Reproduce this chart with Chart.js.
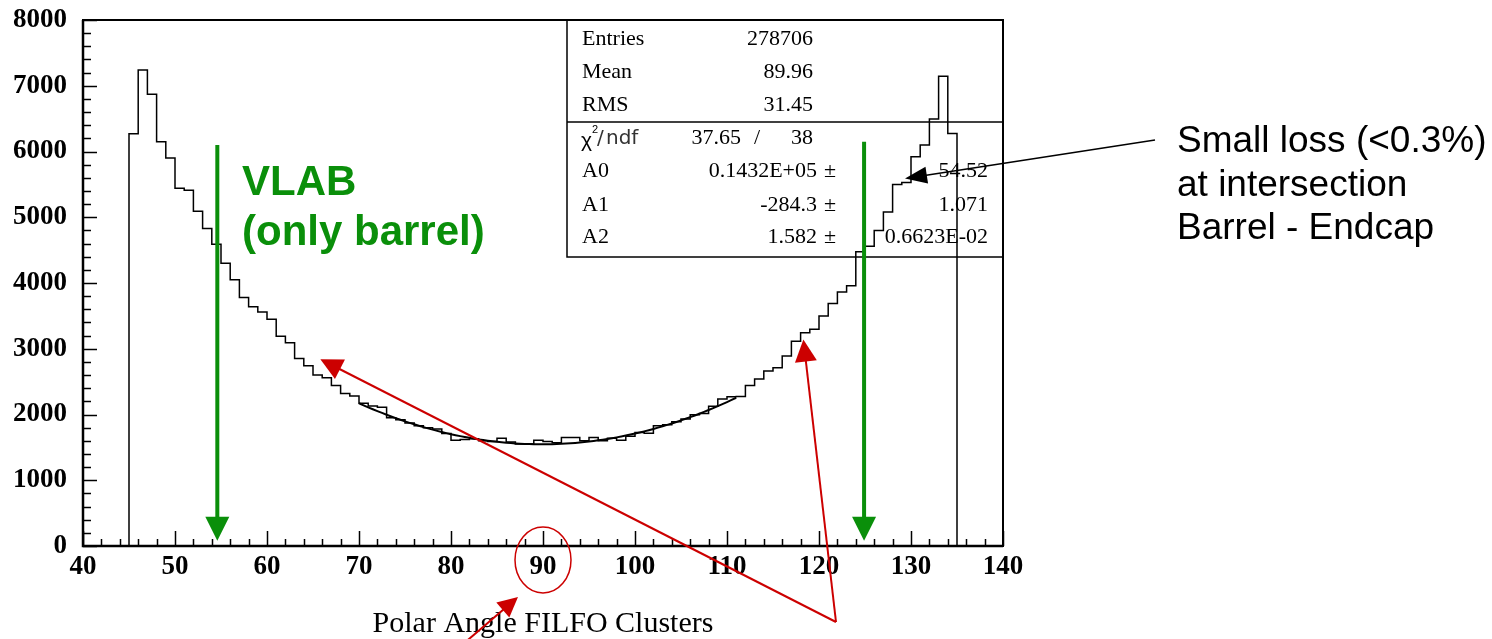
<!DOCTYPE html>
<html>
<head>
  <script src="https://cdn.jsdelivr.net/npm/chart.js"></script>
  <style>
    body {
      margin: 0px;
      background: #ffffff;
    }
    canvas {
      display: block;
    }
  </style>
</head>
<body>
  <canvas id="histChart" width="1492" height="639"></canvas>

  <script>
    // Histogram bins: lower edge of each 1 degree bin
    var binLow = [45, 46, 47, 48, 49, 50, 51, 52, 53, 54,
                  55, 56, 57, 58, 59, 60, 61, 62, 63, 64,
                  65, 66, 67, 68, 69, 70, 71, 72, 73, 74,
                  75, 76, 77, 78, 79, 80, 81, 82, 83, 84,
                  85, 86, 87, 88, 89, 90, 91, 92, 93, 94,
                  95, 96, 97, 98, 99, 100, 101, 102, 103, 104,
                  105, 106, 107, 108, 109, 110, 111, 112, 113, 114,
                  115, 116, 117, 118, 119, 120, 121, 122, 123, 124,
                  125, 126, 127, 128, 129, 130, 131, 132, 133, 134];
    var binWidth = 1;

    // Cluster counts per bin
    var counts = [6270, 7240, 6870, 6150, 5900, 5440, 5410, 5090, 4830, 4590,
                  4300, 4050, 3780, 3640, 3560, 3450, 3190, 3090, 2850, 2740,
                  2600, 2560, 2440, 2320, 2280, 2170, 2130, 2110, 1950, 1920,
                  1870, 1830, 1800, 1780, 1710, 1610, 1620, 1630, 1600, 1590,
                  1640, 1580, 1550, 1550, 1610, 1590, 1570, 1650, 1650, 1600,
                  1650, 1600, 1640, 1610, 1670, 1725, 1715, 1830, 1845, 1890,
                  1930, 1995, 2015, 2125, 2235, 2270, 2275, 2440, 2540, 2660,
                  2710, 2890, 3115, 3245, 3295, 3500, 3690, 3865, 3960, 4475,
                  4560, 4800, 5080, 5500, 5530, 5920, 6100, 6495, 7145, 6275];

    // Second order polynomial fit A0 + A1*x + A2*x^2 and its range
    var fitParams = [14320, -284.3, 1.582];
    var fitRange = [70, 111];

    // Axis ticks
    var xTickStep = 10;
    var yTickStep = 1000;

    // Statistics box contents
    var statNames = ['Entries', 'Mean', 'RMS'];
    var statValues = ['278706', '89.96', '31.45'];
    var chi2Text = ['37.65', '38'];
    var parNames = ['A0', 'A1', 'A2'];
    var parValues = ['0.1432E+05', '-284.3', '1.582'];
    var parErrors = ['54.52', '1.071', '0.6623E-02'];

    // Build the step outline of the histogram
    var histPoints = [{ x: binLow[0], y: 0 }];
    for (var i = 0; i < binLow.length; i++) {
      histPoints.push({ x: binLow[i], y: counts[i] });
    }
    histPoints.push({ x: binLow[binLow.length - 1] + binWidth, y: 0 });

    // Fit curve sampled every half degree
    var fitPoints = [];
    for (var fx = fitRange[0]; fx <= fitRange[1]; fx += 0.5) {
      fitPoints.push({ x: fx, y: fitParams[0] + fitParams[1] * fx + fitParams[2] * fx * fx });
    }

    var GREEN = '#0a8f0a';
    var RED = '#cc0000';

    function arrow(ctx, x1, y1, x2, y2, color, width, headLen, headWidth) {
      var a = Math.atan2(y2 - y1, x2 - x1);
      var c = Math.cos(a), s = Math.sin(a);
      ctx.save();
      ctx.strokeStyle = color;
      ctx.fillStyle = color;
      ctx.lineWidth = width;
      ctx.beginPath();
      ctx.moveTo(x1, y1);
      ctx.lineTo(x2 - c * headLen * 0.9, y2 - s * headLen * 0.9);
      ctx.stroke();
      ctx.beginPath();
      ctx.moveTo(x2, y2);
      ctx.lineTo(x2 - c * headLen - s * headWidth / 2, y2 - s * headLen + c * headWidth / 2);
      ctx.lineTo(x2 - c * headLen + s * headWidth / 2, y2 - s * headLen - c * headWidth / 2);
      ctx.closePath();
      ctx.fill();
      ctx.restore();
    }

    // Stats box, frame, inner ticks and the notes drawn on top
    var decorations = {
      id: 'decorations',
      beforeDatasetsDraw: function(chart) {
        var ctx = chart.ctx;
        var area = chart.chartArea;
        var left = 567, top = area.top, right = area.right, mid = 122, bottom = 257;
        ctx.save();
        ctx.strokeStyle = '#000';
        ctx.lineWidth = 1.5;
        ctx.strokeRect(left, top, right - left, bottom - top);
        ctx.beginPath();
        ctx.moveTo(left, mid);
        ctx.lineTo(right, mid);
        ctx.stroke();

        ctx.fillStyle = '#000';
        ctx.textBaseline = 'middle';
        ctx.font = '22px "Liberation Serif"';
        var rows = [39, 72, 105];
        for (var i = 0; i < statNames.length; i++) {
          ctx.textAlign = 'left';
          ctx.fillText(statNames[i], 582, rows[i]);
          ctx.textAlign = 'right';
          ctx.fillText(statValues[i], 813, rows[i]);
        }

        // chi2 / ndf row
        ctx.textAlign = 'left';
        ctx.font = '21px "Liberation Sans"';
        ctx.fillText('\u03c7', 581, 141);
        ctx.font = '11px "Liberation Sans"';
        ctx.fillText('2', 592, 130);
        ctx.font = '20px "DejaVu Sans"';
        ctx.fillStyle = '#333';
        ctx.fillText('/', 597, 139);
        ctx.fillText('ndf', 606, 139);
        ctx.fillStyle = '#000';
        ctx.font = '22px "Liberation Serif"';
        ctx.textAlign = 'right';
        ctx.fillText(chi2Text[0], 741, 138);
        ctx.textAlign = 'center';
        ctx.fillText('/', 757, 138);
        ctx.textAlign = 'right';
        ctx.fillText(chi2Text[1], 813, 138);

        var prow = [171, 205, 237];
        for (var j = 0; j < parNames.length; j++) {
          ctx.textAlign = 'left';
          ctx.fillText(parNames[j], 582, prow[j]);
          ctx.textAlign = 'right';
          ctx.fillText(parValues[j], 817, prow[j]);
          ctx.textAlign = 'left';
          ctx.fillText('\u00b1', 824, prow[j]);
          ctx.textAlign = 'right';
          ctx.fillText(parErrors[j], 988, prow[j]);
        }
        ctx.restore();
      },
      afterDatasetsDraw: function(chart) {
        var ctx = chart.ctx;
        var area = chart.chartArea;
        var xs = chart.scales.x, ys = chart.scales.y;
        ctx.save();

        // frame
        ctx.strokeStyle = '#000';
        ctx.lineWidth = 2;
        ctx.strokeRect(area.left, area.top, area.right - area.left, area.bottom - area.top);
        ctx.lineWidth = 2.5;
        ctx.beginPath();
        ctx.moveTo(area.left, area.top);
        ctx.lineTo(area.left, area.bottom);
        ctx.lineTo(area.right, area.bottom);
        ctx.stroke();

        // inner ticks
        ctx.lineWidth = 1.5;
        ctx.beginPath();
        for (var v = xs.min; v <= xs.max; v += 2) {
          var px = Math.round(xs.getPixelForValue(v)) + 0.5;
          var len = (v % xTickStep === 0) ? 15 : 7;
          ctx.moveTo(px, area.bottom);
          ctx.lineTo(px, area.bottom - len);
        }
        for (var w = ys.min; w <= ys.max; w += 200) {
          var py = Math.round(ys.getPixelForValue(w)) + 0.5;
          var len2 = (w % yTickStep === 0) ? 14 : 8;
          ctx.moveTo(area.left, py);
          ctx.lineTo(area.left + len2, py);
        }
        ctx.stroke();

        // barrel acceptance arrows
        arrow(ctx, xs.getPixelForValue(54.6), ys.getPixelForValue(6100),
              xs.getPixelForValue(54.6), ys.getPixelForValue(80), GREEN, 4, 24, 24);
        arrow(ctx, xs.getPixelForValue(124.9), ys.getPixelForValue(6150),
              xs.getPixelForValue(124.9), ys.getPixelForValue(80), GREEN, 4, 24, 24);

        ctx.fillStyle = GREEN;
        ctx.textAlign = 'left';
        ctx.textBaseline = 'alphabetic';
        ctx.font = 'bold 42px "Liberation Sans"';
        ctx.fillText('VLAB', 242, 195);
        ctx.fillText('(only barrel)', 242, 245);

        // red pointers
        arrow(ctx, 836, 622, xs.getPixelForValue(65.8), ys.getPixelForValue(2840), RED, 2, 22, 22);
        arrow(ctx, 836, 622, xs.getPixelForValue(118.3), ys.getPixelForValue(3140), RED, 2, 22, 22);
        arrow(ctx, 462, 645, 518, 597, RED, 2, 20, 20);
        ctx.strokeStyle = RED;
        ctx.lineWidth = 1.5;
        ctx.beginPath();
        ctx.ellipse(xs.getPixelForValue(90), 560, 28, 33, 0, 0, Math.PI * 2);
        ctx.stroke();

        // note on the barrel / endcap overlap
        arrow(ctx, 1155, 140, xs.getPixelForValue(129.35), ys.getPixelForValue(5590), '#000', 1.5, 22, 17);
        ctx.fillStyle = '#000';
        ctx.font = '37px "Liberation Sans"';
        ctx.fillText('Small loss (<0.3%)', 1177, 152);
        ctx.fillText('at intersection', 1177, 196);
        ctx.fillText('Barrel - Endcap', 1177, 239);

        ctx.restore();
      }
    };

    var tickFont = { family: 'Liberation Serif', weight: 'bold', size: 27 };

    var config = {
      type: 'line',
      data: {
        datasets: [{
          label: 'Polar angle',
          data: histPoints,
          stepped: 'before',
          borderColor: '#000',
          borderWidth: 1.5,
          pointRadius: 0,
          fill: false
        }, {
          label: 'pol2 fit',
          data: fitPoints,
          borderColor: '#000',
          borderWidth: 2,
          pointRadius: 0,
          tension: 0,
          fill: false
        }]
      },
      options: {
        responsive: false,
        animation: false,
        devicePixelRatio: 1,
        layout: { padding: { left: 0, right: 489, top: 20, bottom: 0 } },
        plugins: {
          legend: { display: false },
          tooltip: { enabled: false }
        },
        scales: {
          x: {
            type: 'linear',
            min: 40,
            max: 140,
            grid: { display: false, drawTicks: false },
            border: { display: false },
            ticks: { stepSize: xTickStep, font: tickFont, color: '#000', padding: 5, maxRotation: 0 },
            title: {
              display: true,
              text: 'Polar Angle FILFO Clusters',
              font: { family: 'Liberation Serif', size: 30 },
              color: '#000',
              padding: { top: 0, bottom: -3 }
            },
            afterFit: function(scale) {
              scale.height = 93;
              scale.paddingLeft = 0;
              scale.paddingRight = 0;
            }
          },
          y: {
            min: 0,
            max: 8000,
            grid: { display: false, drawTicks: false },
            border: { display: false },
            ticks: {
              stepSize: yTickStep, font: tickFont, color: '#000', padding: 16,
              callback: function(value) { return String(value); }
            },
            afterFit: function(scale) {
              scale.width = 83;
              scale.paddingTop = 0;
              scale.paddingBottom = 0;
            }
          }
        }
      },
      plugins: [decorations]
    };

    var ctx = document.getElementById('histChart').getContext('2d');
    new Chart(ctx, config);
  </script>
</body>
</html>
